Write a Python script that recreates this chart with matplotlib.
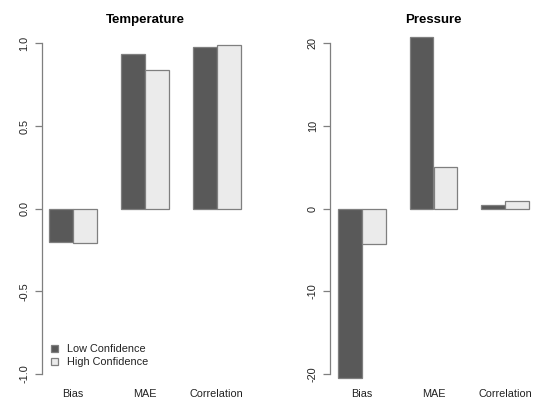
import matplotlib
matplotlib.use('Agg')
import matplotlib.pyplot as plt
from matplotlib.patches import Patch

plt.rcParams['font.family'] = ['Liberation Sans', 'DejaVu Sans']

# data
metrics = ['Bias', 'MAE', 'Correlation']
series = ['Low Confidence', 'High Confidence']
temp_low = [-0.20, 0.934, 0.98]
temp_high = [-0.21, 0.84, 0.99]
pres_low = [-20.5, 20.8, 0.4]
pres_high = [-4.25, 4.98, 0.88]
temp_ticks = [-1.0, -0.5, 0.0, 0.5, 1.0]
pres_ticks = [-20, -10, 0, 10, 20]

colors = ['#595959', '#ebebeb']
edge = '#7f7f7f'

fig = plt.figure(figsize=(5.39, 4.0), dpi=100)
ax1 = fig.add_axes([41.5 / 539, 0.032, 207 / 539, 0.8928])
ax2 = fig.add_axes([330 / 539, 0.032, 207 / 539, 0.8928])


def draw_panel(ax, low, high, ticks, labels, title, lim):
    for j, vals in enumerate([low, high]):
        x = [1 + 3 * i + j for i in range(len(vals))]
        ax.bar(x, vals, width=1, align='edge', color=colors[j],
               edgecolor=edge, linewidth=0.9)
    ax.set_xlim(0.68, 9.32)
    ax.set_ylim(-lim * 1.08, lim * 1.08)
    ax.set_xticks([2, 5, 8])
    ax.set_xticklabels(metrics, fontsize=7.8, color='#222222')
    ax.tick_params(axis='x', length=0, pad=1.5)
    ax.set_yticks(ticks)
    ax.set_yticklabels(labels, rotation=90, va='center', fontsize=7.8,
                       color='#222222')
    ax.tick_params(axis='y', length=4.7, width=0.9, color=edge, pad=4)
    for s in ['top', 'right', 'bottom']:
        ax.spines[s].set_visible(False)
    ax.spines['left'].set_bounds(-lim, lim)
    ax.spines['left'].set_color(edge)
    ax.spines['left'].set_linewidth(0.9)
    ax.set_title(title, fontsize=9.5, fontweight='bold', pad=4.9)


draw_panel(ax1, temp_low, temp_high, temp_ticks,
           ['-1.0', '-0.5', '0.0', '0.5', '1.0'], 'Temperature', 1.0)
draw_panel(ax2, pres_low, pres_high, pres_ticks,
           ['-20', '-10', '0', '10', '20'], 'Pressure', 20)

handles = [Patch(facecolor=colors[k], edgecolor=edge, linewidth=0.9)
           for k in range(2)]
ax1.legend(handles, series, loc='upper left', frameon=False,
           bbox_to_anchor=(51 / 539, 1 - 344 / 400),
           bbox_transform=fig.transFigure, fontsize=7.8,
           handlelength=0.6, handleheight=0.6, handletextpad=0.9,
           labelspacing=0.3, borderpad=0, borderaxespad=0,
           labelcolor='#222222')

fig.savefig('out.png', dpi=100)
